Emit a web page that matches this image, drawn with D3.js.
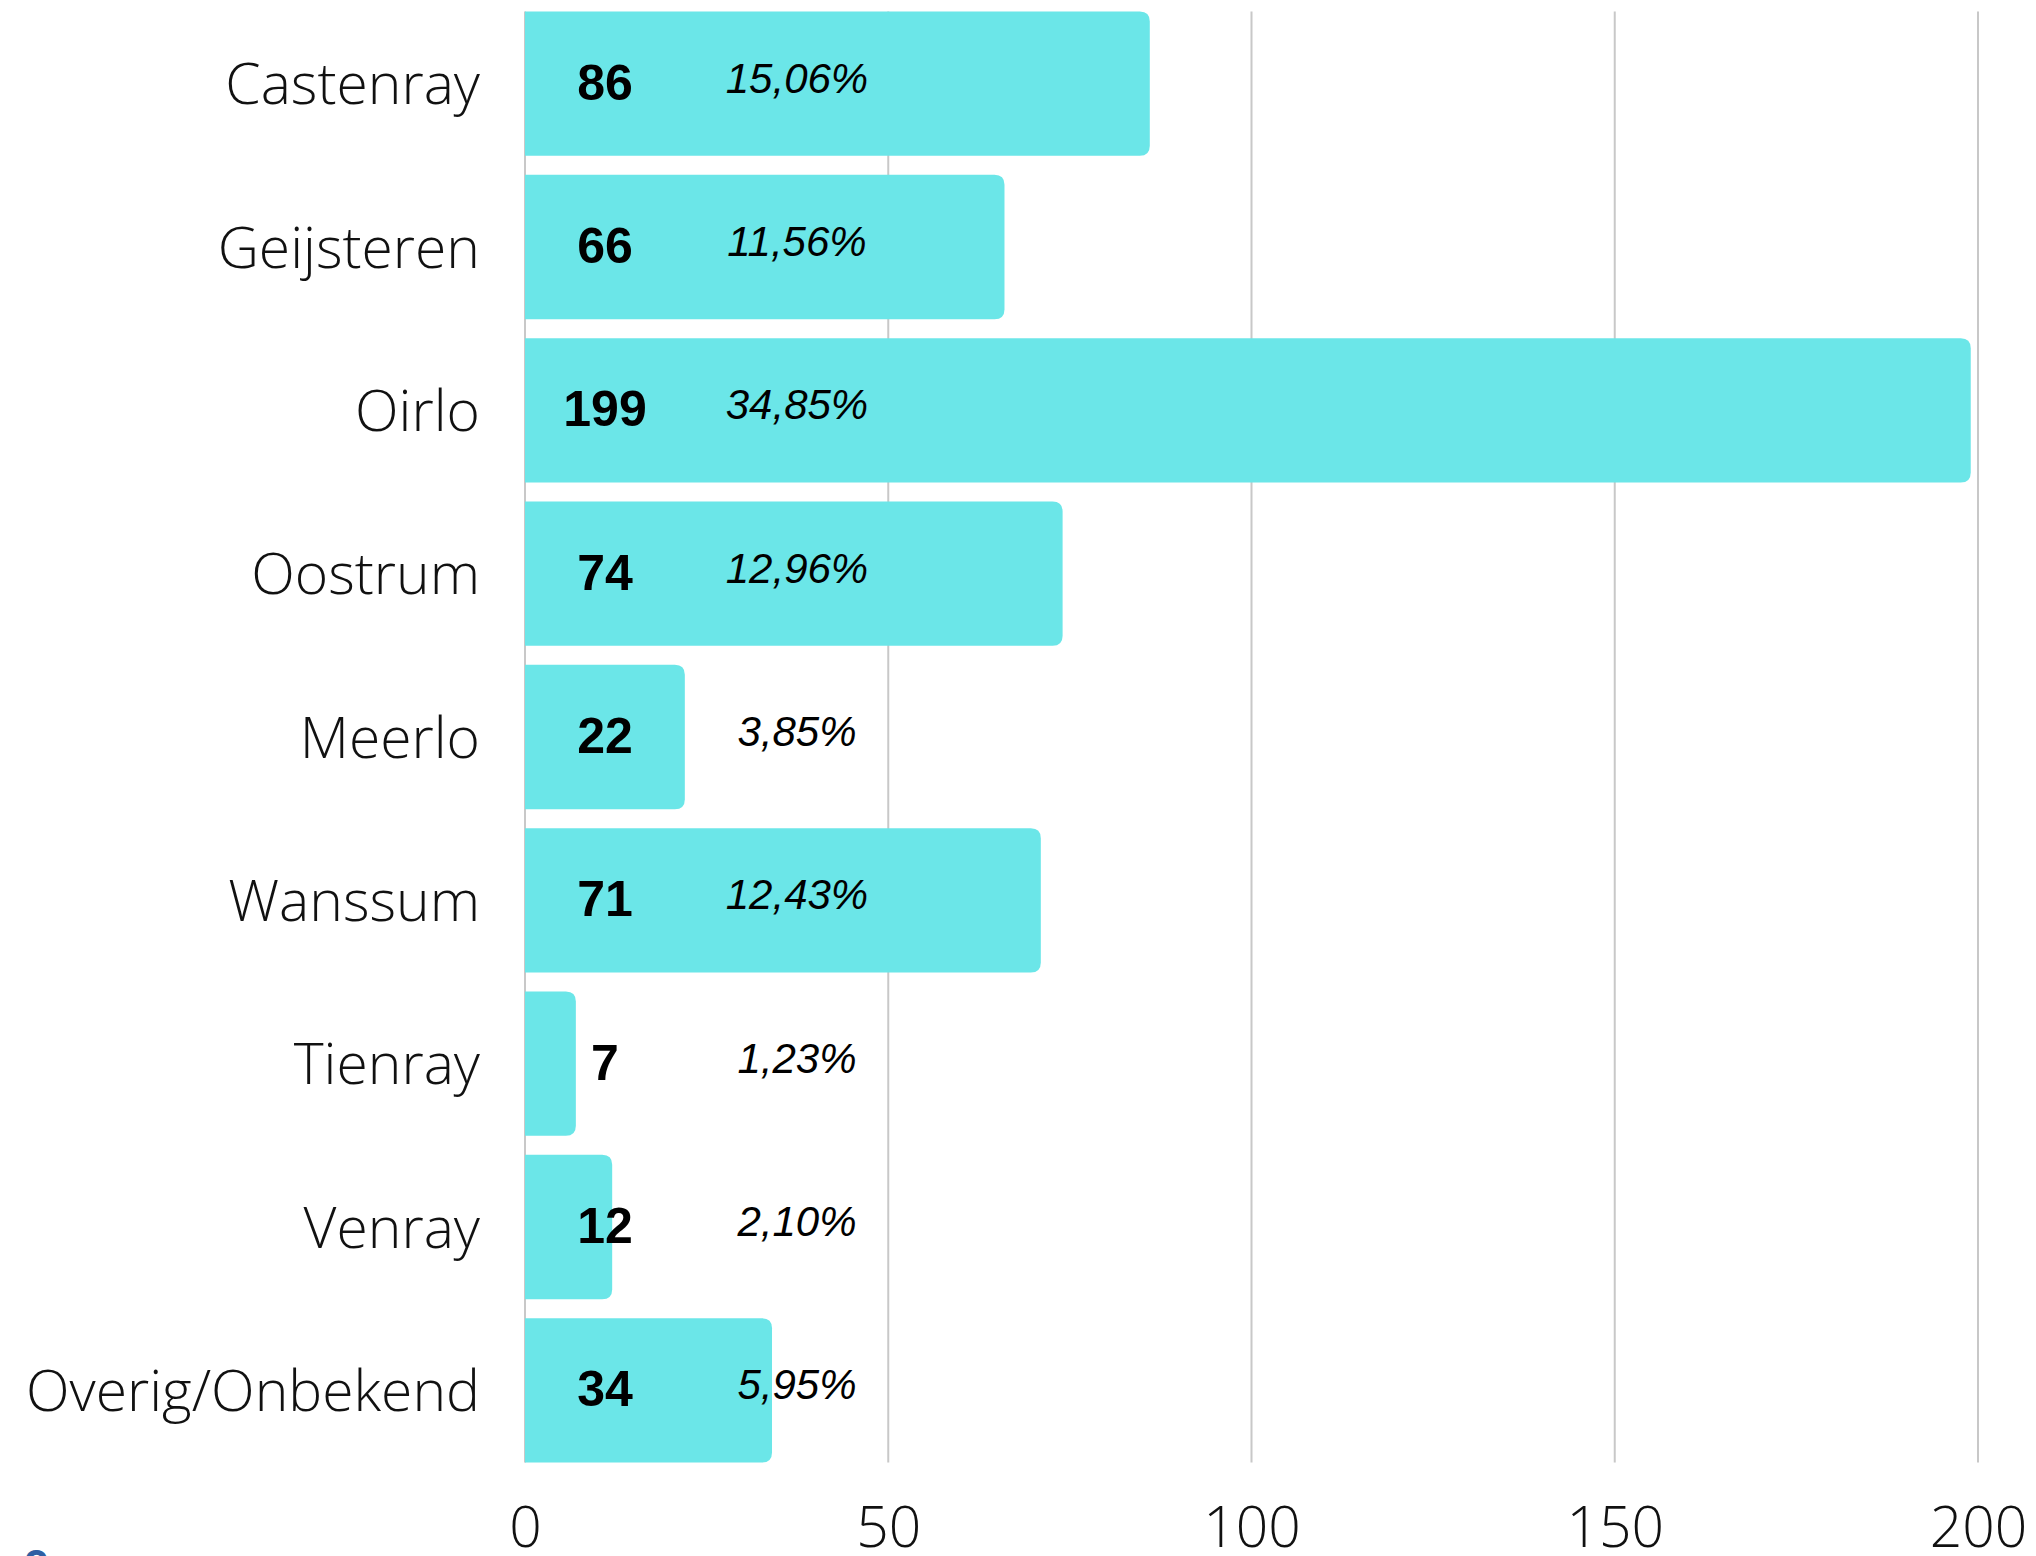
<!DOCTYPE html>
<html>
<head>
<meta charset=utf-8 />
<title>Kernen</title>
<style type="text/css">
  body { margin: 0; background: #fff; }
  svg { display: block; }
</style>
<script src="https://d3js.org/d3.v7.min.js"></script>
</head>
<body>

<div id="chart-container"></div>

<script>

var categories = ['Castenray', 'Geijsteren', 'Oirlo', 'Oostrum', 'Meerlo', 'Wanssum', 'Tienray', 'Venray', 'Overig/Onbekend'];
var counts = [86, 66, 199, 74, 22, 71, 7, 12, 34];
var percents = ['15,06%', '11,56%', '34,85%', '12,96%', '3,85%', '12,43%', '1,23%', '2,10%', '5,95%'];
var xTicks = [0, 50, 100, 150, 200];

var data = categories.map(function(c, i) {
  return {name: c, count: counts[i], pct: percents[i]};
});

var width = 2036, height = 1556;

var svg = d3.select("#chart-container")
  .append("svg")
    .attr("width", width)
    .attr("height", height);

var x = d3.scaleLinear()
  .domain([0, 200])
  .range([525, 1978]);

var y = d3.scaleBand()
  .domain(categories)
  .range([2, 1472])
  .paddingInner(0.116)
  .paddingOuter(0.058);

var gridTop = y(categories[0]);
var gridBottom = y(categories[categories.length - 1]) + y.bandwidth();

// grid lines
svg.append("g")
  .selectAll("line")
  .data(xTicks)
  .enter()
  .append("line")
    .attr("x1", d => x(d))
    .attr("x2", d => x(d))
    .attr("y1", gridTop)
    .attr("y2", gridBottom)
    .attr("stroke", "#c8c8c8")
    .attr("stroke-width", 2);

// bars, rounded on the right side only
function barPath(d) {
  var x0 = x(0), x1 = x(d.count), y0 = y(d.name), h = y.bandwidth();
  var r = Math.min(10, (x1 - x0) / 2);
  return "M" + x0 + "," + y0 +
    "H" + (x1 - r) +
    "Q" + x1 + "," + y0 + " " + x1 + "," + (y0 + r) +
    "V" + (y0 + h - r) +
    "Q" + x1 + "," + (y0 + h) + " " + (x1 - r) + "," + (y0 + h) +
    "H" + x0 + "Z";
}

svg.append("g")
  .selectAll("path")
  .data(data)
  .enter()
  .append("path")
    .attr("d", barPath)
    .attr("fill", "#6be6e8");

// category labels
svg.append("g")
  .selectAll("text")
  .data(data)
  .enter()
  .append("text")
    .attr("x", 480)
    .attr("y", d => y(d.name) + y.bandwidth() / 2)
    .attr("dy", "0.36em")
    .attr("text-anchor", "end")
    .style("font-family", "'Open Sans', sans-serif")
    .style("font-weight", 300)
    .style("font-size", "57px")
    .attr("fill", "#111")
    .text(d => d.name);

// value labels
svg.append("g")
  .selectAll("text")
  .data(data)
  .enter()
  .append("text")
    .attr("x", 605)
    .attr("y", d => y(d.name) + y.bandwidth() / 2 + 16)
    .attr("text-anchor", "middle")
    .style("font-family", "'Liberation Sans', Arial, sans-serif")
    .style("font-weight", "bold")
    .style("font-size", "50px")
    .attr("fill", "#000")
    .text(d => d.count);

// percentage labels
svg.append("g")
  .selectAll("text")
  .data(data)
  .enter()
  .append("text")
    .attr("x", 797)
    .attr("y", d => y(d.name) + y.bandwidth() / 2 + 9)
    .attr("text-anchor", "middle")
    .style("font-family", "'Liberation Sans', Arial, sans-serif")
    .style("font-style", "italic")
    .style("font-size", "42px")
    .attr("fill", "#000")
    .text(d => d.pct);

// x axis labels
var xAxis = svg.append("g")
  .attr("transform", "translate(0," + gridBottom + ")")
  .call(d3.axisBottom(x).tickValues(xTicks).tickSize(0).tickPadding(44));

xAxis.select(".domain").remove();
xAxis.selectAll("text")
  .style("font-family", "'Open Sans', sans-serif")
  .style("font-weight", 300)
  .style("font-size", "57px")
  .attr("fill", "#111");

// cut-off mark at the bottom edge
svg.append("text")
  .attr("x", 24)
  .attr("y", 1572)
  .style("font-family", "'Open Sans', sans-serif")
  .style("font-weight", "bold")
  .style("font-size", "40px")
  .attr("fill", "#2f5fa3")
  .text("o");

</script>
</body>
</html>
